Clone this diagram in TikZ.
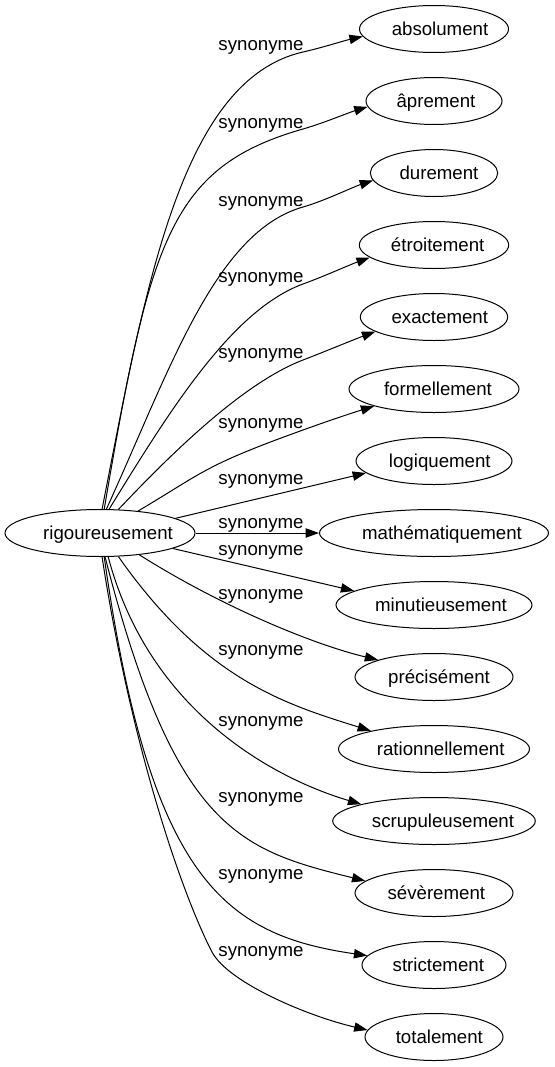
\documentclass[tikz,border=0pt]{standalone}
\usepackage{fontspec}
\setmainfont{Liberation Sans}
\usetikzlibrary{arrows.meta,shapes.geometric}
\newcommand\shtext[2]{\makebox[0pt]{\hspace*{#1}#2}}
\begin{document}
\begin{tikzpicture}[x=0.75pt,y=-0.75pt,
  font=\fontsize{14pt}{16pt}\selectfont,
  word/.style={ellipse, draw, line width=0.75pt, inner sep=0pt, minimum height=35.25pt,
    text height=9.2pt, text depth=0.2pt},
  lab/.style={anchor=base, inner sep=0pt},
  edge/.style={line width=0.75pt, -{Triangle[length=10pt,width=7pt]}}]
\useasboundingbox (0,0) rectangle (554,1067);

% nodes
\node[word, minimum width=142.5pt] (rig) at (100,533) {\shtext{12pt}{rigoureusement}};
\node[word, minimum width=111.75pt] (abs) at (434,29) {\shtext{9pt}{absolument}};
\node[word, minimum width=102pt] (apr) at (434,101) {\shtext{3pt}{âprement}};
\node[word, minimum width=95.55pt] (dur) at (434,173) {\shtext{7.5pt}{durement}};
\node[word, minimum width=112.05pt] (etr) at (434,245) {\shtext{5.5pt}{étroitement}};
\node[word, minimum width=110.55pt] (exa) at (434,317) {\shtext{8.7pt}{exactement}};
\node[word, minimum width=127.5pt] (for) at (434,389) {\shtext{6pt}{formellement}};
\node[word, minimum width=117pt] (log) at (434,461) {\shtext{8.7pt}{logiquement}};
\node[word, minimum width=171.75pt] (mat) at (434,533) {\shtext{12pt}{mathématiquement}};
\node[word, minimum width=147pt] (min) at (434,605) {\shtext{10.5pt}{minutieusement}};
\node[word, minimum width=118.5pt] (pre) at (434,677) {\shtext{7.5pt}{précisément}};
\node[word, minimum width=143.25pt] (rat) at (434,749) {\shtext{10pt}{rationnellement}};
\node[word, minimum width=151.95pt] (scr) at (434,821) {\shtext{13.5pt}{scrupuleusement}};
\node[word, minimum width=118.5pt] (sev) at (434,893) {\shtext{3.5pt}{sévèrement}};
\node[word, minimum width=108pt] (str) at (434,965) {\shtext{6.5pt}{strictement}};
\node[word, minimum width=103.5pt] (tot) at (434,1037) {\shtext{8pt}{totalement}};

% edge labels
\node[lab] (l0) at (261,50) {synonyme};
\node[lab] (l1) at (261,128) {synonyme};
\node[lab] (l2) at (261,206) {synonyme};
\node[lab] (l3) at (261,282) {synonyme};
\node[lab] (l4) at (261,358) {synonyme};
\node[lab] (l5) at (261,428) {synonyme};
\node[lab] (l6) at (261,484) {synonyme};
\node[lab] (l7) at (261,528) {synonyme};
\node[lab] (l8) at (261,555) {synonyme};
\node[lab] (l9) at (261,599) {synonyme};
\node[lab] (l10) at (261,655) {synonyme};
\node[lab] (l11) at (261,726) {synonyme};
\node[lab] (l12) at (261,802) {synonyme};
\node[lab] (l13) at (261,879) {synonyme};
\node[lab] (l14) at (261,956) {synonyme};

% edges (upper)
\draw[edge] (rig.85) .. controls (145,290) and (180,80) .. (303,52)
  .. controls (322.5,47.6) and (343.4,40.8) .. (abs.186);
\draw[edge] (rig.80) .. controls (150,240) and (170,167) .. (303,129)
  .. controls (324.1,122.9) and (348.9,112.5) .. (apr.185);
\draw[edge] (rig.75.6) .. controls (170,370) and (215,232) .. (303,207)
  .. controls (324.2,201) and (352.4,187.2) .. (dur.187);
\draw[edge] (rig.69) .. controls (170,410) and (232,310) .. (303,284)
  .. controls (323.7,276.5) and (350.1,264.6) .. (etr.191.5);
\draw[edge] (rig.52) .. controls (170,455) and (242.3,383.3) .. (303,360)
  .. controls (325.4,351.4) and (354.2,339.4) .. (exa.194.8);
\draw[edge] (rig.30) .. controls (204,472) and (203,466) .. (303,430)
  .. controls (325.6,421.8) and (352,412.9) .. (for.196);
\draw[edge] (rig.11.6) -- (log.190.5);
% middle
\draw[edge] (rig.0) -- (mat.180);
\draw[edge] (rig.-12.8) -- (min.170.3);
% edges (lower)
\draw[edge] (rig.-29.5) .. controls (222.8,607.5) and (315,645) .. (pre.163.8);
\draw[edge] (rig.-52) .. controls (205,680) and (285,704) .. (rat.164.7);
\draw[edge] (rig.-71.1) .. controls (150,715) and (279,780) .. (scr.167.9);
\draw[edge] (rig.-78) .. controls (175,830) and (240,850) .. (sev.170);
\draw[edge] (rig.-80.3) .. controls (150,880) and (225,935) .. (str.172.4);
\draw[edge] (rig.-85) .. controls (130,740) and (180,890) .. (212,952)
  .. controls (228.4,982.9) and (308.8,1016.5) .. (tot.174.8);
\end{tikzpicture}
\end{document}
